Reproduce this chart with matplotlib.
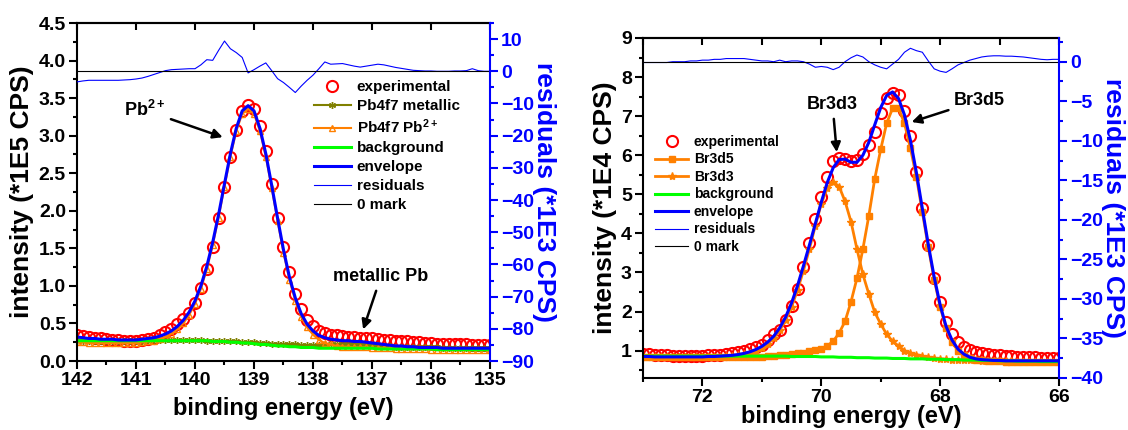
import matplotlib
matplotlib.use('Agg')
import matplotlib.pyplot as plt
import numpy as np
from matplotlib.ticker import MultipleLocator, FormatStrFormatter, NullLocator

plt.rcParams['font.family'] = ['Liberation Sans', 'DejaVu Sans']
plt.rcParams['font.weight'] = 'bold'
plt.rcParams['axes.labelweight'] = 'bold'
plt.rcParams['mathtext.fontset'] = 'custom'
plt.rcParams['mathtext.rm'] = 'Liberation Sans:bold'
plt.rcParams['mathtext.bf'] = 'Liberation Sans:bold'
plt.rcParams['mathtext.it'] = 'Liberation Sans:bold'
plt.rcParams['mathtext.default'] = 'rm'

# ---- Pb 4f7 panel, 142 -> 135 eV, 0.1 eV steps ----
e_pb = np.linspace(142.0, 135.0, 71)
exp_pb = [0.34, 0.33, 0.32, 0.31, 0.30, 0.29, 0.28, 0.28, 0.27, 0.27,
          0.27, 0.28, 0.29, 0.31, 0.34, 0.38, 0.43, 0.49, 0.56, 0.64,
          0.77, 0.97, 1.22, 1.52, 1.91, 2.32, 2.71, 3.07, 3.33, 3.41,
          3.36, 3.13, 2.80, 2.36, 1.91, 1.52, 1.19, 0.89, 0.69, 0.55,
          0.46, 0.40, 0.37, 0.35, 0.34, 0.33, 0.32, 0.32, 0.31, 0.31,
          0.30, 0.29, 0.28, 0.28, 0.27, 0.26, 0.26, 0.25, 0.25, 0.24,
          0.24, 0.23, 0.23, 0.23, 0.22, 0.22, 0.22, 0.21, 0.21, 0.21,
          0.21]
metal_pb = [0.27, 0.27, 0.27, 0.27, 0.27, 0.27, 0.27, 0.27, 0.27, 0.27,
            0.27, 0.27, 0.27, 0.28, 0.28, 0.28, 0.28, 0.28, 0.28, 0.28,
            0.28, 0.28, 0.27, 0.27, 0.27, 0.26, 0.26, 0.26, 0.25, 0.25,
            0.25, 0.24, 0.24, 0.23, 0.23, 0.22, 0.22, 0.22, 0.21, 0.21,
            0.21, 0.21, 0.21, 0.22, 0.22, 0.22, 0.22, 0.22, 0.22, 0.22,
            0.21, 0.21, 0.20, 0.20, 0.19, 0.19, 0.19, 0.18, 0.18, 0.18,
            0.18, 0.18, 0.17, 0.17, 0.17, 0.17, 0.17, 0.17, 0.17, 0.17,
            0.17]
pb2_pb = [0.25, 0.25, 0.24, 0.24, 0.24, 0.24, 0.24, 0.24, 0.24, 0.24,
          0.24, 0.25, 0.26, 0.27, 0.29, 0.32, 0.36, 0.42, 0.50, 0.61,
          0.76, 0.96, 1.22, 1.54, 1.91, 2.32, 2.72, 3.06, 3.29, 3.36,
          3.29, 3.06, 2.72, 2.30, 1.86, 1.44, 1.08, 0.80, 0.59, 0.45,
          0.35, 0.28, 0.24, 0.22, 0.20, 0.19, 0.19, 0.18, 0.18, 0.18,
          0.17, 0.17, 0.17, 0.17, 0.16, 0.16, 0.16, 0.16, 0.16, 0.16,
          0.15, 0.15, 0.15, 0.15, 0.15, 0.15, 0.15, 0.15, 0.15, 0.15,
          0.15]
bg_pb = [0.27, 0.27, 0.27, 0.27, 0.27, 0.27, 0.27, 0.27, 0.27, 0.27,
         0.27, 0.27, 0.27, 0.27, 0.27, 0.27, 0.27, 0.27, 0.27, 0.27,
         0.27, 0.27, 0.27, 0.26, 0.26, 0.26, 0.25, 0.25, 0.24, 0.24,
         0.23, 0.22, 0.22, 0.21, 0.20, 0.20, 0.19, 0.19, 0.18, 0.18,
         0.18, 0.17, 0.17, 0.17, 0.17, 0.17, 0.17, 0.17, 0.17, 0.17,
         0.17, 0.16, 0.16, 0.16, 0.16, 0.16, 0.16, 0.16, 0.16, 0.16,
         0.16, 0.15, 0.15, 0.15, 0.15, 0.15, 0.15, 0.15, 0.15, 0.15,
         0.15]
env_pb = [0.32, 0.31, 0.30, 0.30, 0.29, 0.29, 0.29, 0.28, 0.28, 0.28,
          0.28, 0.29, 0.30, 0.31, 0.33, 0.36, 0.40, 0.46, 0.54, 0.65,
          0.80, 1.00, 1.26, 1.58, 1.95, 2.36, 2.76, 3.10, 3.33, 3.40,
          3.33, 3.10, 2.76, 2.34, 1.90, 1.48, 1.12, 0.84, 0.63, 0.49,
          0.40, 0.34, 0.31, 0.29, 0.28, 0.27, 0.27, 0.26, 0.26, 0.25,
          0.24, 0.23, 0.22, 0.21, 0.20, 0.20, 0.19, 0.19, 0.18, 0.18,
          0.18, 0.18, 0.17, 0.17, 0.17, 0.17, 0.17, 0.17, 0.17, 0.17,
          0.17]
res_pb = [-3.3, -3.0, -2.8, -2.8, -2.8, -2.8, -2.8, -2.8, -2.7, -2.6,
          -2.4, -2.1, -1.6, -1.0, -0.4, 0.2, 0.5, 0.6, 0.7, 0.8,
          0.8, 2.0, 3.6, 3.4, 6.5, 9.4, 7.0, 5.8, 4.3, -0.5,
          0.5, 1.6, 2.6, 0.2, -2.3, -3.5, -5.0, -6.6, -4.6, -2.8,
          -1.2, 0.8, 2.9, 2.2, 2.3, 2.4, 2.0, 1.6, 1.3, 1.6,
          1.9, 2.2, 2.0, 1.6, 1.2, 0.9, 0.6, 0.3, 0.2, 0.1,
          0.1, 0.0, 0.0, 0.0, 0.1, 0.1, 0.2, 0.8, 0.2, 0.0,
          0.0]

# ---- Br 3d panel, 73 -> 66 eV, 0.1 eV steps ----
e_br = np.linspace(73.0, 66.0, 71)
exp_br = [0.92, 0.91, 0.90, 0.89, 0.88, 0.87, 0.86, 0.86, 0.86, 0.87,
          0.87, 0.88, 0.89, 0.90, 0.92, 0.94, 0.97, 1.00, 1.04, 1.09,
          1.15, 1.28, 1.42, 1.53, 1.79, 2.15, 2.58, 3.14, 3.75, 4.36,
          4.94, 5.45, 5.84, 5.92, 5.91, 5.85, 5.88, 6.03, 6.26, 6.60,
          7.07, 7.46, 7.60, 7.54, 7.12, 6.48, 5.58, 4.64, 3.71, 2.87,
          2.24, 1.73, 1.42, 1.23, 1.10, 1.02, 0.97, 0.93, 0.91, 0.89,
          0.88, 0.87, 0.86, 0.85, 0.84, 0.83, 0.83, 0.82, 0.82, 0.82,
          0.82]
br3d5 = [0.84, 0.84, 0.84, 0.84, 0.84, 0.84, 0.84, 0.84, 0.84, 0.84,
         0.84, 0.84, 0.84, 0.84, 0.84, 0.84, 0.84, 0.84, 0.85, 0.85,
         0.85, 0.86, 0.87, 0.88, 0.89, 0.91, 0.93, 0.95, 0.98, 1.01,
         1.04, 1.12, 1.24, 1.45, 1.75, 2.25, 2.85, 3.60, 4.45, 5.40,
         6.15, 6.82, 7.20, 7.20, 6.82, 6.18, 5.45, 4.55, 3.65, 2.82,
         2.12, 1.58, 1.22, 1.00, 0.88, 0.81, 0.77, 0.75, 0.74, 0.73,
         0.73, 0.72, 0.72, 0.72, 0.72, 0.72, 0.72, 0.72, 0.72, 0.72,
         0.72]
br3d3 = [0.84, 0.84, 0.84, 0.84, 0.84, 0.84, 0.83, 0.83, 0.83, 0.83,
         0.83, 0.84, 0.84, 0.85, 0.86, 0.87, 0.89, 0.91, 0.95, 1.00,
         1.07, 1.18, 1.32, 1.52, 1.78, 2.12, 2.55, 3.05, 3.60, 4.20,
         4.76, 5.15, 5.32, 5.20, 4.82, 4.30, 3.60, 2.95, 2.45, 1.98,
         1.68, 1.42, 1.24, 1.12, 1.00, 0.94, 0.90, 0.86, 0.83, 0.81,
         0.79, 0.78, 0.77, 0.76, 0.76, 0.75, 0.75, 0.74, 0.74, 0.73,
         0.73, 0.73, 0.73, 0.72, 0.72, 0.72, 0.72, 0.72, 0.72, 0.72,
         0.72]
bg_br = [0.86, 0.86, 0.86, 0.86, 0.86, 0.86, 0.86, 0.86, 0.86, 0.86,
         0.86, 0.86, 0.86, 0.86, 0.86, 0.86, 0.86, 0.86, 0.86, 0.86,
         0.86, 0.86, 0.86, 0.86, 0.86, 0.85, 0.85, 0.85, 0.85, 0.85,
         0.84, 0.84, 0.84, 0.83, 0.83, 0.83, 0.82, 0.82, 0.82, 0.81,
         0.81, 0.81, 0.80, 0.80, 0.80, 0.79, 0.79, 0.79, 0.78, 0.78,
         0.78, 0.77, 0.77, 0.77, 0.76, 0.76, 0.76, 0.75, 0.75, 0.75,
         0.74, 0.74, 0.74, 0.73, 0.73, 0.73, 0.73, 0.72, 0.72, 0.72,
         0.72]
env_br = [0.85, 0.85, 0.84, 0.84, 0.84, 0.84, 0.84, 0.84, 0.84, 0.84,
          0.84, 0.85, 0.85, 0.86, 0.87, 0.88, 0.90, 0.93, 0.97, 1.03,
          1.11, 1.22, 1.37, 1.58, 1.86, 2.22, 2.66, 3.17, 3.70, 4.25,
          4.80, 5.30, 5.68, 5.89, 5.90, 5.82, 5.82, 6.00, 6.33, 6.78,
          7.22, 7.53, 7.62, 7.45, 7.03, 6.38, 5.56, 4.64, 3.72, 2.88,
          2.17, 1.62, 1.27, 1.04, 0.91, 0.83, 0.79, 0.77, 0.76, 0.75,
          0.75, 0.74, 0.74, 0.74, 0.74, 0.74, 0.74, 0.74, 0.74, 0.74,
          0.74]
res_br = [-0.1, -0.1, -0.1, -0.1, -0.1, 0.0, 0.0, 0.0, 0.1, 0.1,
          0.2, 0.2, 0.3, 0.3, 0.4, 0.4, 0.4, 0.4, 0.3, 0.2,
          0.1, 0.1, 0.0, 0.2, 0.0, 0.1, 0.1, 0.0, -0.3, -0.7,
          -0.6, -0.7, -1.0, -0.7, 0.0, 0.5, 0.85, 0.6, 0.0, -0.4,
          -0.7, -0.9, -0.3, 0.3, 1.2, 1.7, 1.4, 1.2, 0.1, -0.9,
          -1.2, -1.35, -0.9, -0.4, -0.1, 0.2, 0.4, 0.6, 0.7, 0.75,
          0.75, 0.7, 0.7, 0.65, 0.6, 0.5, 0.4, 0.3, 0.25, 0.3,
          0.3]

RED = '#FF0000'
OLIVE = '#808000'
ORANGE = '#FF8000'
GREEN = '#00FF00'
BLUE = '#0000FF'
W, H = 1128, 430


def frame(ax, tw, xlim, ylim, rlim, xmaj, xmin, ymaj, ymin, rmaj, rmin, top_step):
    ax.set_xlim(*xlim)
    ax.set_ylim(*ylim)
    tw.set_ylim(*rlim)
    ax.xaxis.set_major_locator(MultipleLocator(xmaj))
    ax.xaxis.set_minor_locator(MultipleLocator(xmin))
    ax.yaxis.set_major_locator(MultipleLocator(ymaj))
    ax.yaxis.set_minor_locator(MultipleLocator(ymin))
    tw.yaxis.set_major_locator(MultipleLocator(rmaj))
    tw.yaxis.set_minor_locator(MultipleLocator(rmin))
    ax.tick_params(which='both', direction='out', width=1.5, labelsize=14, pad=2)
    ax.tick_params(which='major', length=6)
    ax.tick_params(which='minor', length=3)
    tw.tick_params(which='both', direction='out', width=1.5, colors=BLUE, labelsize=14, pad=2)
    tw.tick_params(which='major', length=6)
    tw.tick_params(which='minor', length=3)
    for s in ['left', 'bottom', 'top']:
        ax.spines[s].set_linewidth(1.5)
        tw.spines[s].set_visible(False)
    ax.spines['right'].set_visible(False)
    tw.spines['right'].set_color(BLUE)
    tw.spines['right'].set_linewidth(1.5)
    # origin style mirrored ticks on top pointing inwards
    sec = ax.secondary_xaxis('top')
    sec.xaxis.set_major_locator(MultipleLocator(top_step))
    sec.xaxis.set_minor_locator(NullLocator())
    sec.tick_params(direction='in', length=5, width=1.5, labeltop=False)
    sec.spines['top'].set_linewidth(1.5)


fig = plt.figure(figsize=(W / 100, H / 100), dpi=100)

# ---------------- left panel ----------------
ax1 = fig.add_axes([77 / W, 1 - 361 / H, (490 - 77) / W, (361 - 23) / H])
tw1 = ax1.twinx()
l1, = ax1.plot(e_pb, exp_pb, ls='none', marker='o', ms=8, mfc='none', mec=RED, mew=1.5)
l2, = ax1.plot(e_pb, metal_pb, color=OLIVE, lw=1.5, marker=(6, 2, 0), ms=5, mec=OLIVE)
l3, = ax1.plot(e_pb, pb2_pb, color=ORANGE, lw=1.5, marker='^', ms=5, mfc='none', mec=ORANGE)
l4, = ax1.plot(e_pb, bg_pb, color=GREEN, lw=2.2)
l5, = ax1.plot(e_pb, env_pb, color=BLUE, lw=2.2)
l6, = tw1.plot(e_pb, res_pb, color=BLUE, lw=0.8)
l7 = tw1.axhline(0, color='black', lw=0.8)
frame(ax1, tw1, (142, 135), (0, 4.5), (-90, 15), 1, 0.5, 0.5, 0.25, 10, 5, 1)
ax1.yaxis.set_major_formatter(FormatStrFormatter('%.1f'))
ax1.set_xlabel('binding energy (eV)', fontsize=17, labelpad=6)
ax1.set_ylabel('intensity (*1E5 CPS)', fontsize=19, labelpad=3)
tw1.set_ylabel('residuals (*1E3 CPS)', fontsize=19, color=BLUE, rotation=270, labelpad=16)

arrow = dict(arrowstyle='-|>', color='black', lw=1.8, mutation_scale=14, shrinkA=2, shrinkB=0)
ax1.annotate('Pb$^{2+}$', xy=(139.53, 2.98), xytext=(140.85, 3.34), fontsize=13,
             ha='center', va='center', arrowprops=arrow)
ax1.annotate('metallic Pb', xy=(137.15, 0.42), xytext=(136.85, 1.12), fontsize=13,
             ha='center', va='center', arrowprops=arrow)

tw1.legend([l1, l2, l3, l4, l5, l6, l7],
           ['experimental', 'Pb4f7 metallic', 'Pb4f7 Pb$^{2+}$', 'background',
            'envelope', 'residuals', '0 mark'],
           loc='upper left', bbox_to_anchor=(314 / W, 1 - 80 / H), bbox_transform=fig.transFigure,
           frameon=False, fontsize=11, numpoints=1, handlelength=2.4, handletextpad=0.4,
           labelspacing=0.32, borderpad=0, borderaxespad=0)

# ---------------- right panel ----------------
ax2 = fig.add_axes([643 / W, 1 - 378 / H, (1059 - 643) / W, (378 - 38) / H])
tw2 = ax2.twinx()
m1, = ax2.plot(e_br, exp_br, ls='none', marker='o', ms=8, mfc='none', mec=RED, mew=1.5)
m2, = ax2.plot(e_br, br3d5, color=ORANGE, lw=2, marker='s', ms=5, mec=ORANGE)
m3, = ax2.plot(e_br, br3d3, color=ORANGE, lw=2, marker='*', ms=6, mec=ORANGE)
m4, = ax2.plot(e_br, bg_br, color=GREEN, lw=2.2)
m5, = ax2.plot(e_br, env_br, color=BLUE, lw=2.2)
m6, = tw2.plot(e_br, res_br, color=BLUE, lw=0.8)
m7 = tw2.axhline(0, color='black', lw=0.8)
frame(ax2, tw2, (73, 66), (0.3, 9), (-40, 3), 2, 1, 1, 0.5, 5, 2.5, 1)
ax2.set_xlabel('binding energy (eV)', fontsize=17, labelpad=-1)
ax2.set_ylabel('intensity (*1E4 CPS)', fontsize=19, labelpad=3)
tw2.set_ylabel('residuals (*1E3 CPS)', fontsize=19, color=BLUE, rotation=270, labelpad=16)

ax2.annotate('Br3d3', xy=(69.74, 6.08), xytext=(69.81, 7.29), fontsize=13,
             ha='center', va='center', arrowprops=arrow)
ax2.annotate('Br3d5', xy=(68.48, 6.85), xytext=(67.34, 7.41), fontsize=13,
             ha='center', va='center', arrowprops=arrow)

tw2.legend([m1, m2, m3, m4, m5, m6, m7],
           ['experimental', 'Br3d5', 'Br3d3', 'background', 'envelope', 'residuals', '0 mark'],
           loc='upper left', bbox_to_anchor=(655 / W, 1 - 135 / H), bbox_transform=fig.transFigure,
           frameon=False, fontsize=10, numpoints=1, handlelength=2.4, handletextpad=0.4,
           labelspacing=0.25, borderpad=0, borderaxespad=0)

fig.savefig('out.png', dpi=100)
